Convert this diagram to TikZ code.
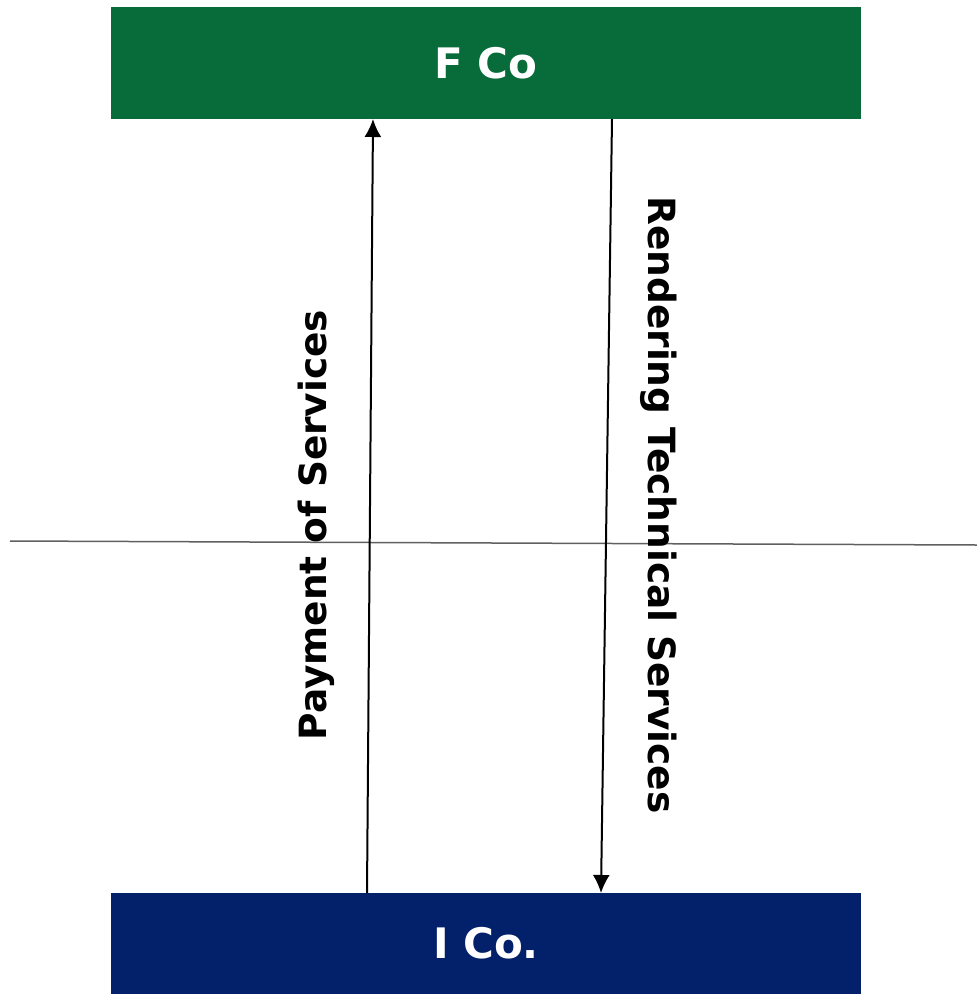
\documentclass[tikz,border=0pt]{standalone}
\usepackage{fontspec}
\setmainfont{DejaVu Sans}
\usetikzlibrary{arrows.meta}
\definecolor{fgreen}{HTML}{076B3A}
\definecolor{iblue}{HTML}{03216B}
\definecolor{midline}{HTML}{606060}
\tikzset{
  cobox/.style={fill,minimum width=750pt,inner sep=0pt,text=white,font=\fontsize{42}{50}\selectfont\bfseries},
  flow/.style={black,line width=2pt,-{Latex[length=18pt,width=17pt]}},
  flowlbl/.style={font=\fontsize{37.5}{45}\selectfont\bfseries}
}

\begin{document}
\begin{tikzpicture}[x=1pt,y=-1pt]
        \useasboundingbox (0,0) rectangle (977,994);
        \node[cobox,fill=fgreen,minimum height=112pt] (fco) at (486,63) {F Co};
        \node[cobox,fill=iblue,minimum height=101pt] (ico) at (486,943.5) {I Co.};
        % border line
        \coordinate (bl) at (10,541);
        \coordinate (br) at (977,545);
        \draw[midline,line width=1.5pt] (bl) -- (br);
        % flows
        \coordinate (pa) at (367,893);
        \coordinate (pb) at (373,119);
        \coordinate (ra) at (612,119);
        \coordinate (rb) at (601,893);
        \draw[flow] (pa) -- (pb);
        \draw[flow] (ra) -- (rb);
        \node[flowlbl,rotate=90] (paylbl) at (316,525) {Payment of Services};
        \node[flowlbl,rotate=-90] (renlbl) at (659,505) {Rendering Technical Services};
      \end{tikzpicture}
\end{document}
